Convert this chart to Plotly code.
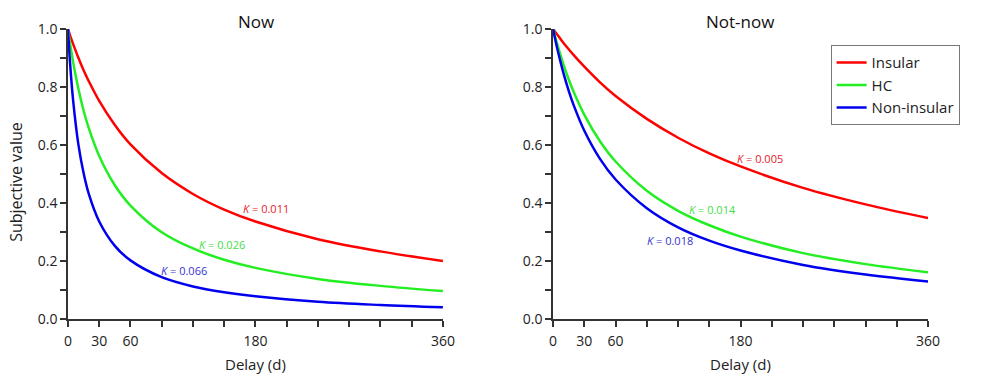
import plotly.graph_objects as go

# ---- data ----
delays = [0, 2, 5, 10, 15, 20, 30, 45, 60, 90, 120, 150, 180, 240, 300, 360]

now_insular = [1.0, 0.978, 0.948, 0.901, 0.858, 0.820, 0.752, 0.669, 0.602, 0.503, 0.431, 0.377, 0.336, 0.275, 0.233, 0.200]
now_hc = [1.0, 0.951, 0.885, 0.794, 0.719, 0.658, 0.562, 0.461, 0.391, 0.299, 0.243, 0.204, 0.176, 0.138, 0.114, 0.096]
now_non = [1.0, 0.883, 0.752, 0.602, 0.503, 0.431, 0.336, 0.252, 0.202, 0.144, 0.112, 0.092, 0.078, 0.059, 0.048, 0.040]

notnow_insular = [1.0, 0.990, 0.976, 0.952, 0.930, 0.909, 0.870, 0.816, 0.769, 0.690, 0.625, 0.571, 0.526, 0.452, 0.395, 0.348]
notnow_hc = [1.0, 0.973, 0.935, 0.877, 0.826, 0.781, 0.704, 0.613, 0.543, 0.442, 0.373, 0.323, 0.284, 0.227, 0.189, 0.161]
notnow_non = [1.0, 0.965, 0.917, 0.847, 0.787, 0.735, 0.649, 0.552, 0.481, 0.382, 0.316, 0.270, 0.236, 0.186, 0.153, 0.129]

series_names = ["Insular", "HC", "Non-insular"]
line_colors = ["#ff0000", "#22ee22", "#0000ee"]
label_colors = ["#e8202a", "#44dd44", "#3333cc"]

now_k = ["0.011", "0.026", "0.066"]
notnow_k = ["0.005", "0.014", "0.018"]
now_k_pos = [(166, 0.38), (124, 0.255), (87, 0.166)]
notnow_k_pos = [(175, 0.552), (129, 0.376), (88, 0.271)]

x_ticks = list(range(0, 361, 30))
x_labels = [str(v) if v in (0, 30, 60, 180, 360) else "" for v in x_ticks]
y_ticks = [i / 10 for i in range(11)]
y_labels = [f"{v:.1f}" if i % 2 == 0 else "" for i, v in enumerate(y_ticks)]

FONT = "Open Sans"
AXC = "#333333"

fig = go.Figure()

panels = [
    ("x", "y", [now_insular, now_hc, now_non], now_k, now_k_pos, False),
    ("x2", "y2", [notnow_insular, notnow_hc, notnow_non], notnow_k, notnow_k_pos, True),
]

annotations = []
for xa, ya, ys, ks, kpos, show in panels:
    for name, col, lc, yv, k, (kx, ky) in zip(series_names, line_colors, label_colors, ys, ks, kpos):
        fig.add_trace(go.Scatter(
            x=delays, y=yv, mode="lines", name=name, xaxis=xa, yaxis=ya,
            line=dict(color=col, width=2.5, shape="spline", smoothing=1.0),
            showlegend=show,
        ))
        annotations.append(dict(
            x=kx, y=ky, xref=xa, yref=ya, xanchor="left", yanchor="middle",
            text=f"<i>K</i> = {k}", showarrow=False,
            font=dict(family=FONT, size=11, color=lc),
        ))

axis_common = dict(
    showline=True, linecolor=AXC, linewidth=1.5, ticks="outside", ticklen=6,
    tickwidth=1.5, tickcolor=AXC, showgrid=False, zeroline=False,
    tickfont=dict(family=FONT, size=14, color="#222"),
)

ydom = [59 / 384, 364 / 384]
fig.update_layout(
    width=1004, height=384, margin=dict(l=0, r=0, t=0, b=0),
    plot_bgcolor="white", paper_bgcolor="white",
    xaxis=dict(domain=[65 / 1004, 446 / 1004], range=[0, 360], tickvals=x_ticks, ticktext=x_labels,
               anchor="y", ticklabelstandoff=3, **axis_common),
    yaxis=dict(domain=ydom, range=[0, 1], tickvals=y_ticks, ticktext=y_labels, anchor="x",
               ticklabelstandoff=0, **axis_common),
    xaxis2=dict(domain=[558 / 1004, 939 / 1004], range=[0, 360], tickvals=x_ticks, ticktext=x_labels,
                anchor="y2", ticklabelstandoff=3, **axis_common),
    yaxis2=dict(domain=ydom, range=[0, 1], tickvals=y_ticks, ticktext=y_labels, anchor="x2",
                ticklabelstandoff=0, **axis_common),
    legend=dict(x=840 / 1004, y=1 - 37 / 384, xanchor="left", yanchor="top",
                bordercolor="#777", borderwidth=1, bgcolor="white",
                font=dict(family=FONT, size=15, color="#222")),
    showlegend=True,
)

# titles and axis labels
annotations += [
    dict(x=256 / 1004, y=1 - 12 / 384, xref="paper", yref="paper", text="Now", showarrow=False,
         font=dict(family=FONT, size=17, color="#111"), xanchor="center", yanchor="middle"),
    dict(x=748 / 1004, y=1 - 12 / 384, xref="paper", yref="paper", text="Not-now", showarrow=False,
         font=dict(family=FONT, size=17, color="#111"), xanchor="center", yanchor="middle"),
    dict(x=256 / 1004, y=1 - 372 / 384, xref="paper", yref="paper", text="Delay (d)", showarrow=False,
         font=dict(family=FONT, size=15, color="#222"), xanchor="center", yanchor="middle"),
    dict(x=748 / 1004, y=1 - 372 / 384, xref="paper", yref="paper", text="Delay (d)", showarrow=False,
         font=dict(family=FONT, size=15, color="#222"), xanchor="center", yanchor="middle"),
    dict(x=12 / 1004, y=1 - 181 / 384, xref="paper", yref="paper", text="Subjective value", showarrow=False,
         textangle=-90, font=dict(family=FONT, size=16, color="#222"), xanchor="center", yanchor="middle"),
]
fig.update_layout(annotations=annotations)

fig.write_html("out.html", config={"displayModeBar": False})

# remove the default page margin so the 1004x384 figure fills the window exactly
with open("out.html", "r", encoding="utf-8") as f:
    html = f.read()
html = html.replace("<head>", "<head><style>html,body{margin:0;padding:0;overflow:hidden;}</style>", 1)
with open("out.html", "w", encoding="utf-8") as f:
    f.write(html)
